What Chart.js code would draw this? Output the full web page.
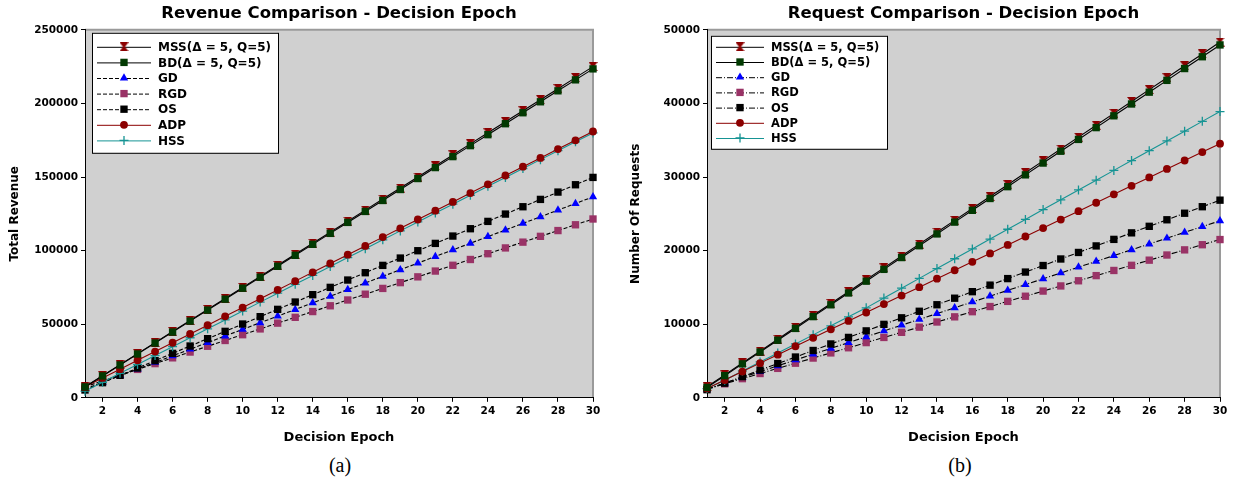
<!DOCTYPE html>
<html><head><meta charset="utf-8">
<script src="https://cdn.jsdelivr.net/npm/chart.js@4/dist/chart.umd.min.js"></script>
<style>
body{margin:0;background:#fff;width:1237px;height:480px;position:relative;overflow:hidden}
canvas{position:absolute;top:0}
#cvA{left:0}
#cvB{left:618px}
.cap{position:absolute;top:454px;font:20px 'Liberation Serif',serif;width:100px;text-align:center;color:#000}
</style></head><body>
<canvas id="cvA" width="615" height="446"></canvas>
<canvas id="cvB" width="619" height="446"></canvas>
<div class="cap" style="left:290px">(a)</div>
<div class="cap" style="left:910px">(b)</div>
<script>
/* ===== DATA ===== */
const epochs = [1,2,3,4,5,6,7,8,9,10,11,12,13,14,15,16,17,18,19,20,21,22,23,24,25,26,27,28,29,30];
const seriesNames = ['MSS(Δ = 5, Q=5)','BD(Δ = 5, Q=5)','GD','RGD','OS','ADP','HSS'];

// (a) total revenue
const revMSS = [7500,15000,22500,30000,37500,45000,52500,60000,67500,75000,82500,90000,97500,105000,112500,120000,127500,135000,142500,150000,157500,165000,172500,180000,187500,195000,202500,210000,217500,225000];
const revBD  = [7400,14850,22300,29750,37200,44650,52100,59550,67000,74450,81900,89350,96800,104250,111700,119150,126600,134050,141500,148950,156400,163850,171300,178750,186200,193650,201100,208550,216000,223450];
const revGD  = [6000,10500,15000,19500,24000,28500,33000,37500,42000,46500,51000,55500,60000,64500,69000,73500,78000,82500,87000,91500,96000,100500,105000,109500,114000,118500,123000,127500,132000,136500];
const revRGD = [7500,11430,15360,19290,23220,27150,31080,35010,38940,42870,46800,50730,54660,58590,62520,66450,70380,74310,78240,82170,86100,90030,93960,97890,101820,105750,109680,113610,117540,121470];
const revOS  = [5300,10280,15260,20240,25220,30200,35180,40160,45140,50120,55100,60080,65060,70040,75020,80000,84980,89960,94940,99920,104900,109880,114860,119840,124820,129800,134780,139760,144740,149720];
const revADP = [7500,13480,19460,25440,31420,37400,43380,49360,55340,61320,67300,73280,79260,85240,91220,97200,103180,109160,115140,121120,127100,133080,139060,145040,151020,157000,162980,168960,174940,180920];
const revHSS = [4500,10550,16600,22650,28700,34750,40800,46850,52900,58950,65000,71050,77100,83150,89200,95250,101300,107350,113400,119450,125500,131550,137600,143650,149700,155750,161800,167850,173900,179950];

// (b) number of requests
const reqMSS = [1500,3115,4730,6345,7960,9575,11190,12805,14420,16035,17650,19265,20880,22495,24110,25725,27340,28955,30570,32185,33800,35415,37030,38645,40260,41875,43490,45105,46720,48335];
const reqBD  = [1400,3005,4610,6215,7820,9425,11030,12635,14240,15845,17450,19055,20660,22265,23870,25475,27080,28685,30290,31895,33500,35105,36710,38315,39920,41525,43130,44735,46340,47945];
const reqGD  = [1200,1988,2776,3564,4352,5140,5928,6716,7504,8292,9080,9868,10656,11444,12232,13020,13808,14596,15384,16172,16960,17748,18536,19324,20112,20900,21688,22476,23264,24052];
const reqRGD = [1200,1900,2600,3300,4000,4700,5400,6100,6800,7500,8200,8900,9600,10300,11000,11700,12400,13100,13800,14500,15200,15900,16600,17300,18000,18700,19400,20100,20800,21500];
const reqOS  = [1100,1988,2876,3764,4652,5540,6428,7316,8204,9092,9980,10868,11756,12644,13532,14420,15308,16196,17084,17972,18860,19748,20636,21524,22412,23300,24188,25076,25964,26852];
const reqADP = [1270,2417,3564,4711,5858,7005,8152,9299,10446,11593,12740,13887,15034,16181,17328,18475,19622,20769,21916,23063,24210,25357,26504,27651,28798,29945,31092,32239,33386,34533];
const reqHSS = [1250,2400,3650,4870,6100,7320,8550,9780,11000,12220,13555,14890,16225,17560,18895,20230,21565,22900,24235,25570,26905,28240,29570,30900,32230,33570,34900,36230,37560,38890];

Chart.defaults.font.family = '"DejaVu Sans", Verdana, sans-serif';
Chart.defaults.color = '#000';

/* ===== HELPERS ===== */
function hourglass(col){
  const c=document.createElement('canvas'); c.width=9; c.height=9;
  const g=c.getContext('2d'); g.fillStyle=col;
  g.beginPath(); g.moveTo(0,0); g.lineTo(9,0); g.lineTo(5.5,4.5); g.lineTo(9,9);
  g.lineTo(0,9); g.lineTo(3.5,4.5); g.closePath(); g.fill();
  return c;
}

// look of each series, same order as seriesNames
function looks(dash){
  return [
    {line:'#000', fill:'#8b0000', shape:hourglass('#8b0000'), r:4.5, order:1},
    {line:'#000', fill:'#023a02', shape:'rect', r:5.2, order:0},
    {line:'#000', fill:'#0000ff', shape:'triangle', r:4.8, order:4, dash},
    {line:'#000', fill:'#993366', shape:'rect', r:5.2, order:5, dash},
    {line:'#000', fill:'#000', shape:'rect', r:5.2, order:3, dash},
    {line:'#8b0000', fill:'#8b0000', shape:'circle', r:3.9, order:2},
    {line:'#169494', fill:'#169494', shape:'cross', r:4.5, order:2, bw:1.3}
  ];
}

function sets(vals, dash){
  return looks(dash).map((s,i)=>({
    label: seriesNames[i],
    data: vals[i].map((v,j)=>({x:epochs[j], y:v})),
    borderColor: s.line, borderWidth: 1.1, borderDash: s.dash || [],
    pointStyle: s.shape, pointRadius: s.r,
    pointBackgroundColor: s.fill, pointBorderColor: s.fill, pointBorderWidth: s.bw || 0,
    order: s.order, clip: false, tension: 0
  }));
}

const plotBg = {
  id:'plotBg',
  beforeDraw(c){
    const a=c.chartArea, ctx=c.ctx;
    ctx.save();
    ctx.fillStyle='#d0d0d0';
    ctx.fillRect(a.left,a.top,a.right-a.left,a.bottom-a.top);
    ctx.strokeStyle='#9a9a9a'; ctx.lineWidth=2;
    ctx.beginPath(); ctx.moveTo(a.left,a.top); ctx.lineTo(a.right,a.top); ctx.lineTo(a.right,a.bottom); ctx.stroke();
    ctx.restore();
  }
};

const boxLegend = {
  id:'boxLegend',
  afterDraw(c, args, o){
    const ctx=c.ctx, a=c.chartArea;
    const x0=a.left+o.x, y0=a.top+o.y;
    ctx.save();
    ctx.fillStyle='#fff'; ctx.fillRect(x0,y0,o.w,o.h);
    ctx.strokeStyle='#000'; ctx.lineWidth=1; ctx.strokeRect(x0+0.5,y0+0.5,o.w,o.h);
    ctx.font='bold '+o.size+'px "DejaVu Sans"'; ctx.textBaseline='middle';
    c.data.datasets.forEach((d,i)=>{
      const y=y0+o.first+i*o.gap;
      ctx.setLineDash(d.borderDash); ctx.strokeStyle=d.borderColor; ctx.lineWidth=1;
      ctx.beginPath(); ctx.moveTo(x0+o.l1,y+0.5); ctx.lineTo(x0+o.l2,y+0.5); ctx.stroke();
      ctx.setLineDash([]);
      ctx.fillStyle=d.pointBackgroundColor; ctx.strokeStyle=d.pointBorderColor; ctx.lineWidth=d.pointBorderWidth;
      Chart.helpers.drawPoint(ctx,{pointStyle:d.pointStyle,radius:d.pointRadius,rotation:0,borderWidth:d.pointBorderWidth},x0+(o.l1+o.l2)/2,y);
      ctx.fillStyle='#000'; ctx.fillText(d.label,x0+o.tx,y+1);
    });
    ctx.restore();
  }
};

function makeChart(id, cfg){
  const tickFont={size:10.5,weight:'bold'};
  return new Chart(document.getElementById(id),{
    type:'line',
    data:{datasets:sets(cfg.vals,cfg.dash)},
    plugins:[plotBg,boxLegend],
    options:{
      responsive:false, animation:false, events:[],
      layout:{padding:{left:0,right:cfg.padR,top:0,bottom:0}},
      plugins:{
        legend:{display:false}, tooltip:{enabled:false},
        title:{display:true,text:cfg.title,fullSize:false,color:'#000',font:{size:16.5,weight:'bold'},padding:{top:4,bottom:6}},
        boxLegend:cfg.legend
      },
      scales:{
        x:{type:'linear',min:1,max:30,
           border:{color:'#000',width:1},
           grid:{drawOnChartArea:false,tickLength:4,color:c=>(c.tick && c.tick.value%2)?'rgba(0,0,0,0)':'#000'},
           ticks:{stepSize:1,autoSkip:false,maxRotation:0,padding:3,color:'#000',font:tickFont,callback:v=>v%2?'':String(v)},
           title:{display:true,text:'Decision Epoch',color:'#000',font:{size:13,weight:'bold'},padding:{top:9,bottom:1}}},
        y:{min:0,max:cfg.yMax,
           border:{color:'#000',width:1},
           grid:{drawOnChartArea:false,tickLength:4,color:'#000'},
           ticks:{stepSize:cfg.yStep,padding:3,color:'#000',font:tickFont,callback:v=>String(v)},
           title:{display:true,text:cfg.yTitle,color:'#000',font:{size:12,weight:'bold'},padding:{top:cfg.yTitlePad,bottom:0}},
           afterFit(s){s.width=cfg.yW;}}
      }
    }
  });
}

makeChart('cvA',{
  title:'Revenue Comparison - Decision Epoch', yTitle:'Total Revenue',
  vals:[revMSS,revBD,revGD,revRGD,revOS,revADP,revHSS], dash:[4,2],
  yMax:250000, yStep:50000, yW:85, yTitlePad:8, padR:22,
  legend:{x:7,y:3,w:186,h:120,first:14,gap:15.6,l1:5,l2:59,tx:66,size:12}
});

makeChart('cvB',{
  title:'Request Comparison - Decision Epoch', yTitle:'Number Of Requests',
  vals:[reqMSS,reqBD,reqGD,reqRGD,reqOS,reqADP,reqHSS], dash:[6,2,1,2],
  yMax:50000, yStep:10000, yW:89, yTitlePad:11, padR:17,
  legend:{x:4,y:6,w:176,h:113,first:11,gap:15.2,l1:5,l2:53,tx:60,size:11.5}
});
</script>
</body></html>
